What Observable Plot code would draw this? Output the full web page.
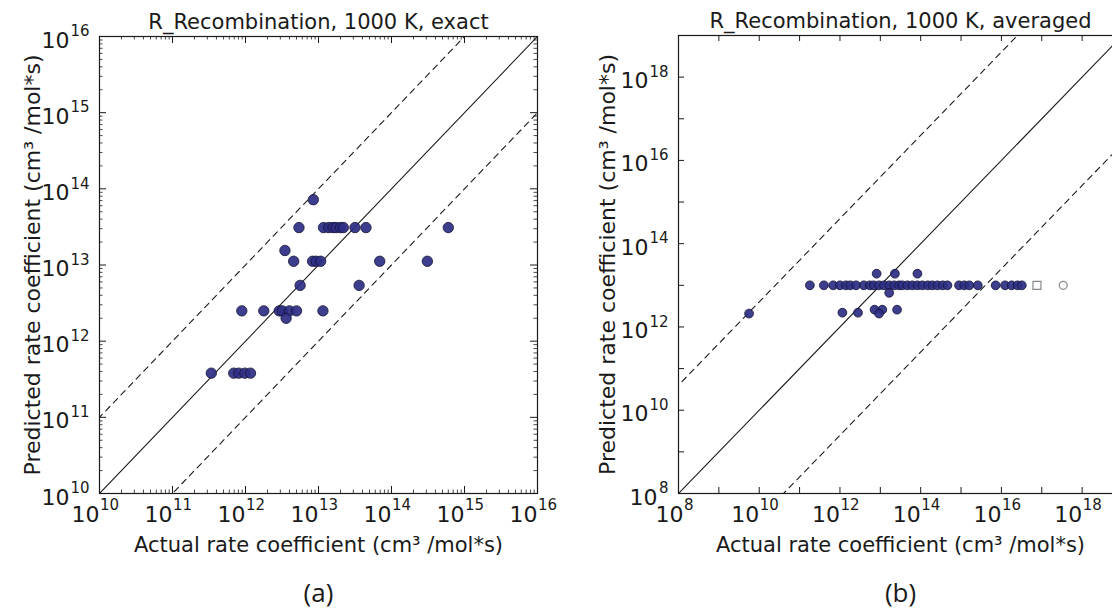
<!DOCTYPE html>
<html><head><meta charset="utf-8">
<script src="https://cdn.jsdelivr.net/npm/d3@7"></script>
<script src="https://cdn.jsdelivr.net/npm/@observablehq/plot@0.6"></script>
<style>
html,body{margin:0;padding:0;background:#fff;overflow:hidden;width:1112px;height:611px}
#wrap{position:relative;width:1112px;height:611px;overflow:hidden}
#a{position:absolute;left:0;top:0;width:560px;height:611px}
#b{position:absolute;left:560px;top:0;width:600px;height:611px}
svg{overflow:visible;max-width:none !important}
</style></head><body><div id="wrap"><div id="a"></div><div id="b"></div></div>
<script>
// ---------- Data ----------
const titleA = "R_Recombination, 1000 K, exact";
const titleB = "R_Recombination, 1000 K, averaged";
const xTitle = "Actual rate coefficient (cm³ /mol*s)";
const yTitle = "Predicted rate coefficient (cm³ /mol*s)";
const captionA = "(a)";
const captionB = "(b)";

// panel (a): exact
const exactActual = [8.5e12,
  5.4e12, 1.17e13, 1.38e13, 1.58e13, 1.74e13, 2.0e13, 2.19e13, 3.16e13, 4.47e13, 6.0e14,
  3.47e12,
  4.57e12, 8.3e12, 9.3e12, 1.07e13, 6.9e13, 3.1e14,
  5.6e12, 3.6e13,
  8.9e11, 1.78e12, 2.9e12, 3.2e12, 4.0e12, 5.0e12, 1.15e13,
  3.6e12,
  3.4e11, 6.9e11, 8.1e11, 9.8e11, 1.17e12];
const exactPredicted = [7.2e13,
  3.1e13, 3.1e13, 3.1e13, 3.1e13, 3.1e13, 3.1e13, 3.1e13, 3.1e13, 3.1e13, 3.1e13,
  1.55e13,
  1.12e13, 1.12e13, 1.12e13, 1.12e13, 1.12e13, 1.12e13,
  5.4e12, 5.4e12,
  2.5e12, 2.5e12, 2.5e12, 2.5e12, 2.5e12, 2.5e12, 2.5e12,
  2.0e12,
  3.8e11, 3.8e11, 3.8e11, 3.8e11, 3.8e11];

// panel (b): averaged
const avgActual = [1.8e11, 4.0e11, 6.8e11, 1.0e12, 1.4e12, 1.8e12, 2.5e12, 3.9e12, 5.5e12, 6.9e12,
  9.3e12, 1.23e13, 1.66e13, 2.2e13, 2.9e13, 3.5e13, 4.7e13, 6.2e13, 8.3e13, 1.1e14,
  1.5e14, 1.95e14, 2.6e14, 3.5e14, 4.6e14, 8.9e14, 1.2e15, 1.6e15, 2.6e15, 7.2e15,
  1.23e16, 1.8e16, 2.5e16, 3.2e16,
  8.1e12, 2.3e13, 8.3e13,
  1.66e13,
  1.15e12, 2.8e12,
  7.2e12, 1.12e13, 2.6e13, 9.3e12,
  5.6e9];
const avgPredicted = [1e13, 1e13, 1e13, 1e13, 1e13, 1e13, 1e13, 1e13, 1e13, 1e13,
  1e13, 1e13, 1e13, 1e13, 1e13, 1e13, 1e13, 1e13, 1e13, 1e13,
  1e13, 1e13, 1e13, 1e13, 1e13, 1e13, 1e13, 1e13, 1e13, 1e13,
  1e13, 1e13, 1e13, 1e13,
  1.9e13, 1.9e13, 1.9e13,
  6.6e12,
  2.2e12, 2.2e12,
  2.6e12, 2.6e12, 2.6e12, 2.1e12,
  2.1e12];
const squareActual = [7.6e16], squarePredicted = [1e13];
const circleActual = [3.4e17], circlePredicted = [1e13];

// reference lines: factor of the dashed bands
const bandFactorA = 10;
const bandFactorB = 400;

// axes
const domainA = [1e10, 1e16];
const domainB = [1e8, 1e19];
const ticksA = [1e10, 1e11, 1e12, 1e13, 1e14, 1e15, 1e16];
const expsA = ["10", "11", "12", "13", "14", "15", "16"];
const majorTicksB = [1e8, 1e9, 1e10, 1e11, 1e12, 1e13, 1e14, 1e15, 1e16, 1e17, 1e18, 1e19];
const ticksB = [1e8, 1e10, 1e12, 1e14, 1e16, 1e18];
const expsB = ["8", "10", "12", "14", "16", "18"];

// ---------- Drawing ----------
const H = 611;
const FONT = "DejaVu Sans";
const INK = "#1a1a1a";
const DOT_FILL = "#2e2e86";
const DOT_STROKE = "#121234";

function pts(xs, ys) { return xs.map((x, i) => ({x, y: ys[i]})); }

function ticks(xT, yT, len, pw, ph, sw = 1) {
  return [
    Plot.tickX(xT, {x: d => d, insetTop: ph - len, stroke: INK, strokeWidth: sw}),
    Plot.tickX(xT, {x: d => d, insetBottom: ph - len, stroke: INK, strokeWidth: sw}),
    Plot.tickY(yT, {y: d => d, insetRight: pw - len, stroke: INK, strokeWidth: sw}),
    Plot.tickY(yT, {y: d => d, insetLeft: pw - len, stroke: INK, strokeWidth: sw})
  ];
}

const T = {fill: INK, fontFamily: FONT, lineAnchor: "middle"};
function xLabels(vals, exps, baseDx, expDx) {
  return [
    Plot.text(vals, {...T, x: d => d, frameAnchor: "bottom", text: () => "10", dy: 21, dx: baseDx, textAnchor: "end", fontSize: 22}),
    Plot.text(vals, {...T, x: d => d, frameAnchor: "bottom", text: (d, i) => exps[i], dy: 12, dx: expDx, textAnchor: "start", fontSize: 15})
  ];
}
function yLabels(vals, exps, baseDx) {
  return [
    Plot.text(vals, {...T, y: d => d, frameAnchor: "left", text: () => "10", dx: baseDx, dy: 4, textAnchor: "end", fontSize: 22}),
    Plot.text(vals, {...T, y: d => d, frameAnchor: "left", text: (d, i) => exps[i], dx: -10, dy: -5, textAnchor: "end", fontSize: 15})
  ];
}
function texts(title, caption, yDx) {
  return [
    Plot.text([title], {...T, text: d => d, frameAnchor: "top", dy: -14, textAnchor: "middle", fontSize: 21}),
    Plot.text([xTitle], {...T, text: d => d, frameAnchor: "bottom", dy: 52, textAnchor: "middle", fontSize: 21}),
    Plot.text([yTitle], {...T, text: d => d, frameAnchor: "left", dx: yDx, rotate: -90, textAnchor: "middle", fontSize: 22}),
    Plot.text([caption], {...T, text: d => d, frameAnchor: "bottom", dy: 100, textAnchor: "middle", fontSize: 26, fontFamily: "Open Sans"})
  ];
}

// Panel A
{
  const W = 560, m = {l: 99, r: 23, t: 36, b: 118};
  const pw = W - m.l - m.r, ph = H - m.t - m.b;
  const minor = d3.scaleLog().domain(domainA).ticks().filter(v => !ticksA.includes(v));
  const lo = 1e8, hi = 1e18;
  const chart = Plot.plot({
    width: W, height: H,
    marginLeft: m.l, marginRight: m.r, marginTop: m.t, marginBottom: m.b,
    x: {type: "log", domain: domainA, axis: null},
    y: {type: "log", domain: domainA, axis: null},
    style: {fontFamily: FONT, background: "white", maxWidth: "none"},
    marks: [
      Plot.line([[lo, lo], [hi, hi]], {x: d => d[0], y: d => d[1], stroke: INK, strokeWidth: 1.1, clip: true}),
      Plot.line([[lo, lo * bandFactorA], [hi, hi * bandFactorA]], {x: d => d[0], y: d => d[1], stroke: INK, strokeWidth: 1.1, strokeDasharray: "6,5", clip: true}),
      Plot.line([[lo, lo / bandFactorA], [hi, hi / bandFactorA]], {x: d => d[0], y: d => d[1], stroke: INK, strokeWidth: 1.1, strokeDasharray: "6,5", clip: true}),
      Plot.dot(pts(exactActual, exactPredicted), {x: "x", y: "y", r: 5.2, fill: DOT_FILL, fillOpacity: 0.92, stroke: DOT_STROKE, strokeWidth: 0.8}),
      ...ticks(ticksA, ticksA, 7, pw, ph),
      ...ticks(minor, minor, 3.5, pw, ph, 0.8),
      Plot.frame({stroke: INK, strokeWidth: 1.2}),
      ...xLabels(ticksA, expsA, 0, 0.5),
      ...yLabels(ticksA, expsA, -30),
      ...texts(titleA, captionA, -67)
    ]
  });
  document.getElementById("a").appendChild(chart);
}

// Panel B
{
  const W = 600, m = {l: 118, r: 38, t: 35, b: 118};
  const pw = W - m.l - m.r, ph = H - m.t - m.b;
  const lo = 1e6, hi = 1e22;
  const two = ticksB.filter((v, i) => expsB[i].length === 2), twoE = expsB.filter(e => e.length === 2);
  const one = ticksB.filter((v, i) => expsB[i].length === 1), oneE = expsB.filter(e => e.length === 1);
  const chart = Plot.plot({
    width: W, height: H,
    marginLeft: m.l, marginRight: m.r, marginTop: m.t, marginBottom: m.b,
    x: {type: "log", domain: domainB, axis: null},
    y: {type: "log", domain: domainB, axis: null},
    style: {fontFamily: FONT, background: "white", maxWidth: "none"},
    marks: [
      Plot.line([[lo, lo], [hi, hi]], {x: d => d[0], y: d => d[1], stroke: INK, strokeWidth: 1.1, clip: true}),
      Plot.line([[lo, lo * bandFactorB], [hi, hi * bandFactorB]], {x: d => d[0], y: d => d[1], stroke: INK, strokeWidth: 1.1, strokeDasharray: "6,5", clip: true}),
      Plot.line([[lo, lo / bandFactorB], [hi, hi / bandFactorB]], {x: d => d[0], y: d => d[1], stroke: INK, strokeWidth: 1.1, strokeDasharray: "6,5", clip: true}),
      Plot.dot(pts(avgActual, avgPredicted), {x: "x", y: "y", r: 4.4, fill: DOT_FILL, fillOpacity: 0.92, stroke: DOT_STROKE, strokeWidth: 0.8}),
      Plot.dot(pts(squareActual, squarePredicted), {x: "x", y: "y", r: 4.5, symbol: "square", fill: "none", stroke: "#8a8a8a", strokeWidth: 1.2}),
      Plot.dot(pts(circleActual, circlePredicted), {x: "x", y: "y", r: 4, fill: "none", stroke: "#8a8a8a", strokeWidth: 1.2}),
      ...ticks(majorTicksB, majorTicksB, 6, pw, ph),
      Plot.frame({stroke: INK, strokeWidth: 1.2}),
      ...xLabels(two, twoE, 0, 0.5),
      ...xLabels(one, oneE, 5, 5.5),
      ...yLabels(two, twoE, -30),
      ...yLabels(one, oneE, -21),
      ...texts(titleB, captionB, -71)
    ]
  });
  document.getElementById("b").appendChild(chart);
}
</script></body></html>
